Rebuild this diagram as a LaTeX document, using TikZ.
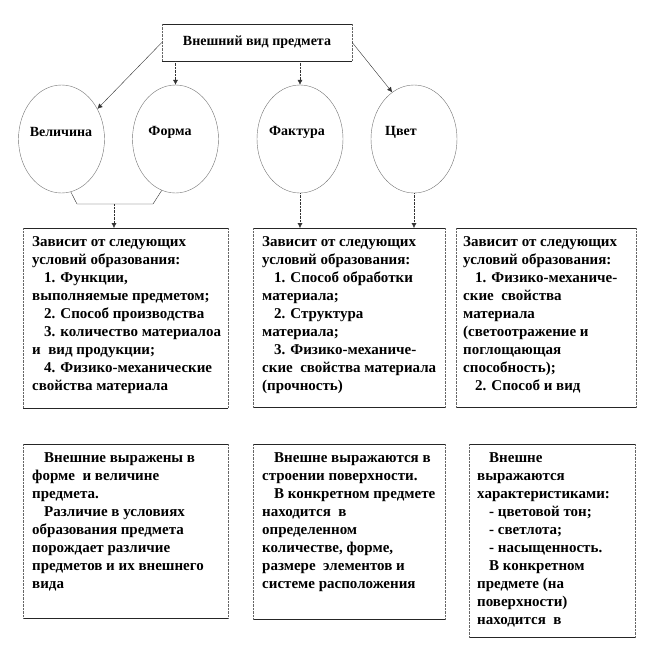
\documentclass[tikz,border=0pt]{standalone}
\usepackage{fontspec}
\newfontfamily\tnr{Liberation Serif}
\usetikzlibrary{shapes.geometric,arrows.meta,calc}

\tikzset{
  oval/.style={draw=black!55, thin, ellipse, minimum width=86pt, minimum height=108pt, inner sep=0pt},
  ovaltext/.style={font=\tnr\bfseries\fontsize{14}{16}\selectfont, inner sep=0pt},
  head/.style={minimum width=190pt, minimum height=37pt, inner sep=0pt, font=\tnr\bfseries\fontsize{14}{16}\selectfont},
  panel/.style={anchor=north west, inner sep=0pt},
  paneltext/.style={anchor=north west, inner sep=0pt, align=left, font=\tnr\bfseries\fontsize{15}{18}\selectfont},
  link/.style={thin, black!80},
  arr/.style={link, densely dotted, -{Latex[length=5pt,width=5pt]}},
  edge/.style={thin, black!85},
  side/.style={thin, black!60, densely dotted},
}
\newcommand{\ind}{\hspace*{0.8em}}

\begin{document}
\begin{tikzpicture}[x=1pt, y=-1pt]
  \useasboundingbox (0,0) rectangle (660,672);

  % title
  \node[head] (title) at (257,42.5) {Внешний вид предмета};

  % ellipses
  \node[oval] (vel) at (61.5,139) {};
  \node[oval] (form) at (175.5,139) {};
  \node[oval] (fak) at (300,139) {};
  \node[oval] (cvet) at (414,139) {};
  \node[ovaltext] (velL) at (61,132) {Величина};
  \node[ovaltext] (formL) at (170,132) {Форма};
  \node[ovaltext] (fakL) at (297,132) {Фактура};
  \node[ovaltext] (cvetL) at (401,132) {Цвет};

  % boxes
  \node[panel, minimum width=205pt, minimum height=180pt] (p1) at (23,228) {};
  \node[panel, minimum width=192pt, minimum height=179pt] (p2) at (253,228) {};
  \node[panel, minimum width=180pt, minimum height=179pt] (p3) at (456,228) {};
  \node[panel, minimum width=205pt, minimum height=174pt] (p4) at (23,444) {};
  \node[panel, minimum width=192pt, minimum height=175pt] (p5) at (253,444) {};
  \node[panel, minimum width=166pt, minimum height=193pt] (p6) at (469,444) {};

  \foreach \p in {title,p1,p2,p3,p4,p5,p6} {
    \draw[edge] (\p.north west) -- (\p.north east);
    \draw[edge] (\p.south west) -- (\p.south east);
    \draw[side] (\p.north west) -- (\p.south west);
    \draw[side] (\p.north east) -- (\p.south east);
  }

  \node[paneltext] (t1) at ($(p1.north west)+(9,8)$) {Зависит от следующих\\
    условий образования:\\
    \ind 1. Функции,\\
    выполняемые предметом;\\
    \ind 2. Способ производства\\
    \ind 3. количество материалоа\\
    и\ \ вид продукции;\\
    \ind 4. Физико-механические\\
    свойства материала};
  \node[paneltext] (t2) at ($(p2.north west)+(9,8)$) {Зависит от следующих\\
    условий образования:\\
    \ind 1. Способ обработки\\
    материала;\\
    \ind 2. Структура\\
    материала;\\
    \ind 3. Физико-механиче-\\
    ские\ \ свойства материала\\
    (прочность)};
  \node[paneltext] (t3) at ($(p3.north west)+(7,8)$) {Зависит от следующих\\
    условий образования:\\
    \ind 1. Физико-механиче-\\
    ские\ \ свойства\\
    материала\\
    (светоотражение и\\
    поглощающая\\
    способность);\\
    \ind 2. Способ и вид};
  \node[paneltext] (t4) at ($(p4.north west)+(9,8)$) {\ind Внешние выражены в\\
    форме\ \ и величине\\
    предмета.\\
    \ind Различие в условиях\\
    образования предмета\\
    порождает различие\\
    предметов и их внешнего\\
    вида};
  \node[paneltext] (t5) at ($(p5.north west)+(9,8)$) {\ind Внешне выражаются в\\
    строении поверхности.\\
    \ind В конкретном предмете\\
    находится\ \ в\\
    определенном\\
    количестве, форме,\\
    размере\ \ элементов и\\
    системе расположения};
  \node[paneltext] (t6) at ($(p6.north west)+(8,8)$) {\ind Внешне\\
    выражаются\\
    характеристиками:\\
    \ind - цветовой тон;\\
    \ind - светлота;\\
    \ind - насыщенность.\\
    \ind В конкретном\\
    предмете (на\\
    поверхности)\\
    находится\ \ в};

  % connectors
  \coordinate (j1) at (77,204);
  \coordinate (j2) at (153,204);
  \coordinate (j) at (114,204);
  \draw[link, -{Latex[length=5pt,width=5pt]}] (title.west) -- (vel.40);
  \draw[arr] (title.south -| form.north) -- (form.north);
  \draw[arr] (title.south -| fak.north) -- (fak.north);
  \draw[link, -{Latex[length=5pt,width=5pt]}] (title.east) -- (cvet.115);
  \draw[link] (vel.-80) -- (j1) -- (j2) -- (form.-105);
  \draw[arr] (j) -- (j |- p1.north);
  \draw[arr] (fak.south) -- (fak.south |- p2.north);
  \draw[arr] (cvet.south) -- (cvet.south |- p3.north);
\end{tikzpicture}
\end{document}
